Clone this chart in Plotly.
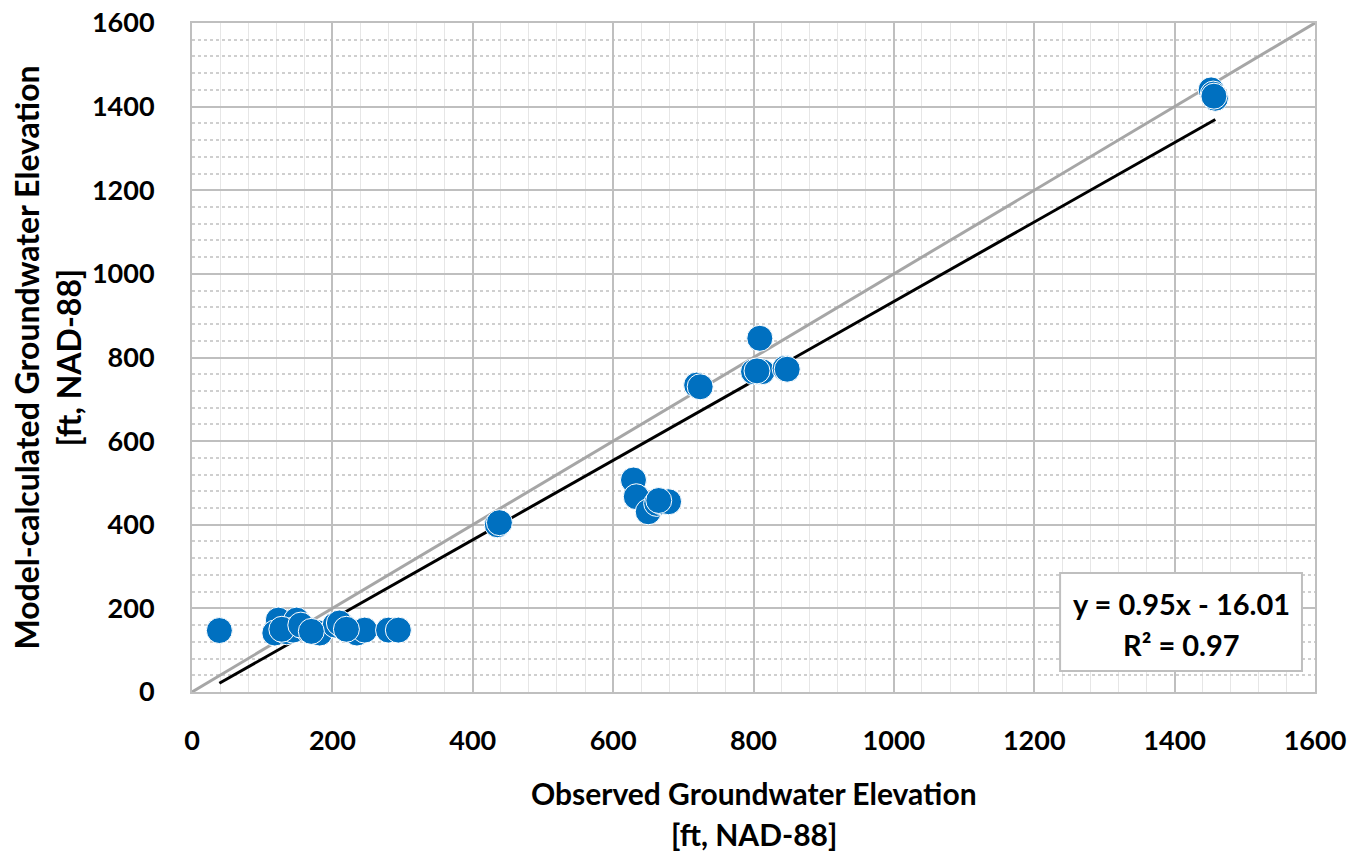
import plotly.graph_objects as go

# Observed vs model-calculated groundwater elevation [ft, NAD-88]
observed = [39, 123, 149, 118, 135, 144, 166, 182, 204, 216, 235, 246, 280, 294,
            128, 155, 170, 210, 220,
            435, 438,
            629, 633, 650, 662, 669, 679, 665,
            719, 724,
            809, 800, 812, 805, 845, 848,
            1452, 1455, 1458, 1456]
modeled = [147, 172, 172, 141, 144, 148, 148, 141, 160, 156, 141, 148, 148, 148,
           150, 160, 145, 165, 150,
           400, 405,
           507, 467, 431, 451, 455, 455, 458,
           734, 730,
           846, 766, 766, 768, 774, 772,
           1440, 1430, 1420, 1425]

slope = 0.95
intercept = -16.01
r2 = 0.97
fit_x = [min(observed), max(observed)]
fit_y = [slope * v + intercept for v in fit_x]
one_to_one = [0, 1600]

x_ticks = [0, 200, 400, 600, 800, 1000, 1200, 1400, 1600]
y_ticks = [0, 200, 400, 600, 800, 1000, 1200, 1400, 1600]

FONT = "Lato"

fig = go.Figure()
fig.add_trace(go.Scatter(x=one_to_one, y=one_to_one, mode="lines",
                         line=dict(color="#A6A6A6", width=3), hoverinfo="skip"))
fig.add_trace(go.Scatter(x=fit_x, y=fit_y, mode="lines",
                         line=dict(color="#000000", width=3), hoverinfo="skip"))
fig.add_trace(go.Scatter(x=observed, y=modeled, mode="markers",
                         marker=dict(size=26, color="#0070C0",
                                     line=dict(color="white", width=1))))

axis_common = dict(
    range=[0, 1600], automargin=False,
    showgrid=True, gridcolor="#BFBFBF", gridwidth=2,
    zeroline=False, showline=True, linecolor="#BFBFBF", linewidth=2, mirror=True,
    ticks="", ticklabeloverflow="allow",
    tickfont=dict(family=FONT, size=27, color="#000000", weight="bold"),
)
fig.update_xaxes(**axis_common, tickvals=x_ticks, ticktext=[str(v) for v in x_ticks],
                 ticklabelstandoff=24,
                 minor=dict(dtick=40, showgrid=True, gridcolor="#E6E6E6",
                            gridwidth=1, griddash="solid"))
fig.update_yaxes(**axis_common, tickvals=y_ticks, ticktext=[str(v) for v in y_ticks],
                 ticklabelstandoff=30,
                 minor=dict(dtick=40, showgrid=True, gridcolor="#CFCFCF",
                            gridwidth=1.5, griddash="dot"))

xt_font = dict(family=FONT, size=30, color="#000000", weight="bold")
yt_font = dict(family=FONT, size=32, color="#000000", weight="bold")
eq_font = dict(family=FONT, size=29, color="#000000", weight="bold")
ann = [
    dict(text="Observed Groundwater Elevation", x=0.5, y=-0.151, font=xt_font),
    dict(text="[ft, NAD-88]", x=0.5, y=-0.2125, font=xt_font),
    dict(text="Model-calculated Groundwater Elevation", x=-0.1478, y=0.5,
         textangle=-90, font=yt_font),
    dict(text="[ft, NAD-88]", x=-0.1104, y=0.5, textangle=-90, font=yt_font),
    dict(text=f"y = {slope:.2f}x - {abs(intercept):.2f}", x=0.8807, y=0.133,
         font=eq_font),
    dict(text=f"R² = {r2:.2f}", x=0.8807, y=0.0703, font=eq_font),
]
for a in ann:
    fig.add_annotation(xref="paper", yref="paper", showarrow=False,
                       xanchor="center", yanchor="middle", **a)

fig.add_shape(type="rect", xref="paper", yref="paper",
              x0=0.773, x1=0.9884, y0=0.0314, y1=0.1779,
              line=dict(color="#BFBFBF", width=2), fillcolor="white", layer="above")

fig.update_layout(
    width=1353, height=854,
    margin=dict(l=192, r=38, t=23, b=162, autoexpand=False),
    plot_bgcolor="white", paper_bgcolor="white",
    showlegend=False,
)

# remove the default 8px page margin so the figure fills the window exactly
fig.write_html("out.html",
               config={"displayModeBar": False},
               post_script="document.body.style.margin='0';document.body.style.overflow='hidden';")
